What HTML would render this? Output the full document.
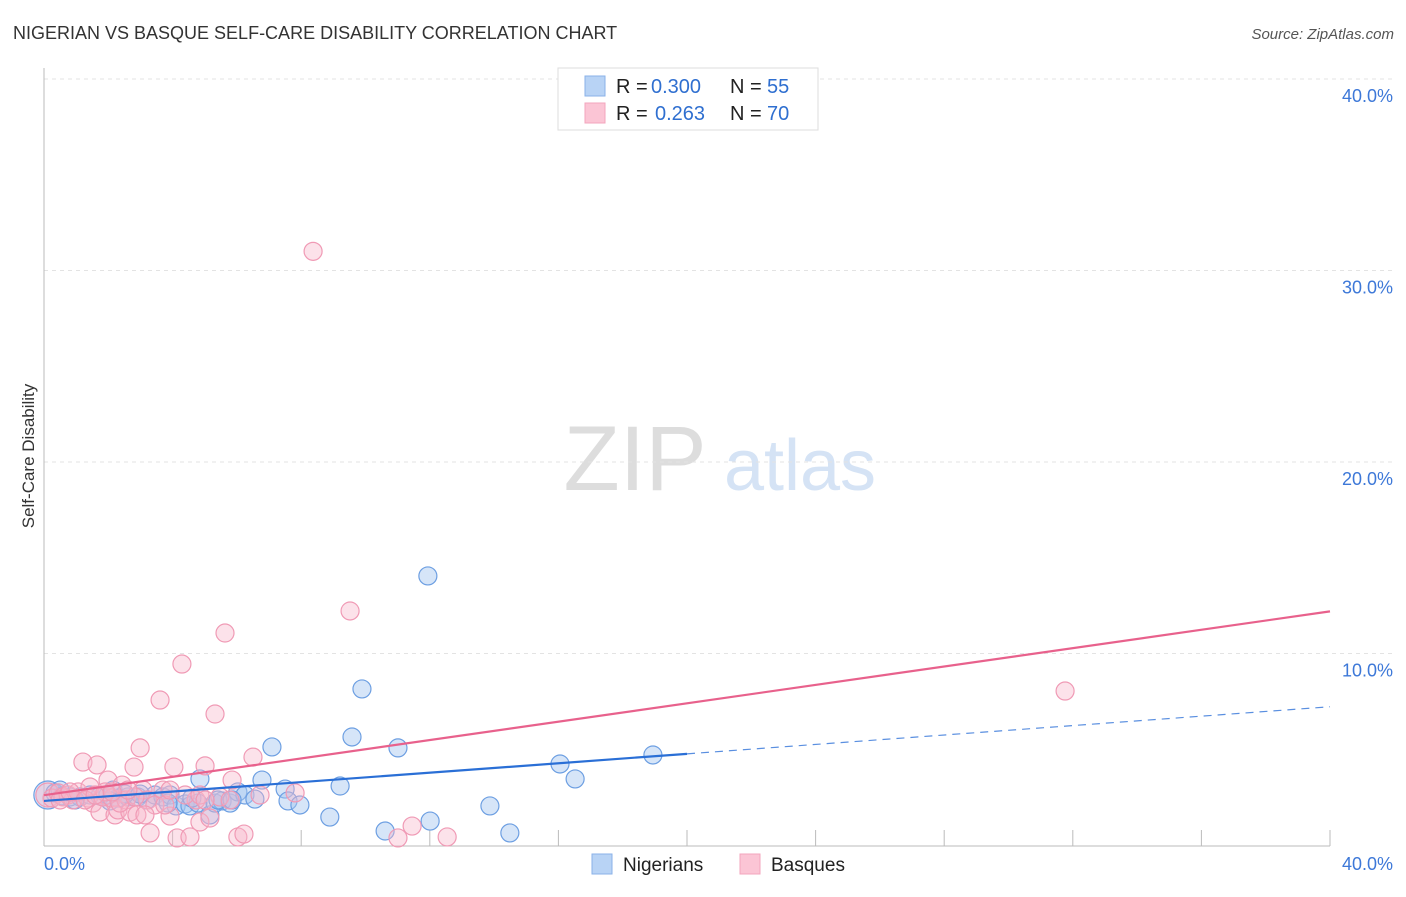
<!DOCTYPE html>
<html><head><meta charset="utf-8"><style>
body{margin:0;background:#fff;font-family:"Liberation Sans",sans-serif;}
svg text{font-family:"Liberation Sans",sans-serif;}
</style></head><body>
<svg id="chart" width="1406" height="892">
<text x="13" y="39" font-size="18" fill="#333">NIGERIAN VS BASQUE SELF-CARE DISABILITY CORRELATION CHART</text>
<text x="1394" y="39" font-size="15" fill="#555" font-style="italic" text-anchor="end">Source: ZipAtlas.com</text>
<text transform="translate(34,456) rotate(-90)" font-size="17" fill="#333" text-anchor="middle">Self-Care Disability</text>
<g><text x="635" y="490" font-size="92" fill="#ddd" font-family="Liberation Serif" text-anchor="middle">ZIP</text><text x="800" y="490" font-size="72" fill="#d5e3f5" text-anchor="middle">atlas</text></g>
<g id="grid"></g><g id="marks"></g>
<g>
<rect x="558" y="68" width="260" height="62" fill="#fff" stroke="#ddd"/>
<rect x="585" y="76" width="20" height="20" fill="#b8d3f5" stroke="#8ab2e8"/>
<rect x="585" y="103" width="20" height="20" fill="#fbc5d5" stroke="#f3a5bd"/>
<text x="616" y="93" font-size="20" fill="#222">R =</text>
<text x="651" y="93" font-size="20" fill="#2f6fd0">0.300</text>
<text x="730" y="93" font-size="20" fill="#222">N =</text>
<text x="767" y="93" font-size="20" fill="#2f6fd0">55</text>
<text x="616" y="120" font-size="20" fill="#222">R =</text>
<text x="655" y="120" font-size="20" fill="#2f6fd0">0.263</text>
<text x="730" y="120" font-size="20" fill="#222">N =</text>
<text x="767" y="120" font-size="20" fill="#2f6fd0">70</text>
</g>
<g>
<rect x="592" y="854" width="20" height="20" fill="#b8d3f5" stroke="#8ab2e8"/>
<text x="623" y="871" font-size="19" fill="#222">Nigerians</text>
<rect x="740" y="854" width="20" height="20" fill="#fbc5d5" stroke="#f3a5bd"/>
<text x="771" y="871" font-size="19" fill="#222">Basques</text>
</g>
<text x="44" y="870" font-size="18" fill="#3d78d8">0.0%</text>
<text x="1393" y="870" font-size="18" fill="#3d78d8" text-anchor="end">40.0%</text>
</svg>
<script>
const yTicks=[10,20,30,40];
const yTickLabels=["10.0%","20.0%","30.0%","40.0%"];
const nigX=[0.12,0.34,0.56,0.81,1.12,1.43,1.74,1.99,2.3,2.61,2.92,3.2,3.45,3.7,3.92,4.11,4.39,4.54,4.85,4.79,5.16,5.32,5.54,5.79,6.03,6.25,6.56,6.78,7.09,7.5,7.59,7.96,8.89,9.21,9.58,9.89,10.61,11.01,11.94,12.01,13.87,14.49,16.05,16.52,18.94,0.5,0.96,2.15,2.52,3.86,2.05,4.6,5.41,5.85,2.99];
const nigY=[2.61,2.72,2.56,2.51,2.51,2.61,2.56,2.61,2.45,2.51,2.51,2.35,2.61,2.51,2.61,2.04,2.14,2.04,3.45,2.19,1.57,2.19,2.3,2.19,2.77,2.61,2.4,3.39,5.12,2.92,2.3,2.09,1.46,3.08,5.64,8.15,0.73,5.07,14.05,1.25,2.04,0.63,4.23,3.45,4.7,2.87,2.35,2.87,2.66,2.19,2.3,2.45,2.35,2.35,2.66];
const basX=[0.12,0.25,0.44,0.59,0.75,0.9,1.06,1.21,1.37,1.52,1.65,1.74,1.83,1.99,2.12,2.21,2.3,2.43,2.55,2.67,2.8,2.89,2.99,3.08,3.23,3.3,3.45,3.61,3.7,3.92,4.04,4.14,4.29,4.54,4.73,4.85,5.01,5.16,5.32,5.47,5.63,5.85,6.03,6.22,6.5,7.81,8.37,9.52,11.01,11.45,12.54,31.76,1.43,1.9,2.36,2.83,3.76,4.39,2.61,3.14,0.5,0.81,1.28,1.59,2.12,4.85,5.79,3.92,5.01,6.72];
const basY=[2.61,2.45,2.72,2.51,2.61,2.35,2.77,4.33,2.45,2.19,4.18,1.72,2.51,3.39,2.45,1.57,1.83,3.13,2.35,1.72,4.07,1.57,5.07,2.87,2.35,0.63,2.09,7.57,2.87,1.51,4.07,0.37,9.45,0.42,2.35,1.2,4.13,1.41,6.84,2.51,11.07,3.39,0.42,0.57,4.59,2.72,31.0,12.22,0.37,0.99,0.42,8.04,3.03,2.77,2.19,2.51,2.09,2.61,2.87,1.57,2.35,2.77,2.35,2.61,2.77,2.61,2.35,2.87,2.35,2.61];
const nigLine={i:2.3,s:0.123,solidEnd:20};
const basLine={i:2.6,s:0.24};
const X=v=>44+v*32.15, Y=v=>845-v*19.15;
const NS="http://www.w3.org/2000/svg";
const grid=document.getElementById('grid'),marks=document.getElementById('marks');
function mk(tag,attrs,parent){const e=document.createElementNS(NS,tag);for(const k in attrs)e.setAttribute(k,attrs[k]);parent.appendChild(e);return e;}
yTicks.forEach((t,i)=>{
 const l=mk('line',{x1:44,x2:1394,y1:Y(t),y2:Y(t),stroke:'#e3e3e3','stroke-dasharray':'4,4'},grid);
 
 
 const tx=mk('text',{x:1393,y:Y(t)+23,'font-size':18,fill:'#3d78d8','text-anchor':'end'},grid);
 tx.textContent=yTickLabels[i];
 
 
});
const ax=mk('line',{x1:44,x2:44,y1:68,y2:846,stroke:'#bbb'},grid);


const bx=mk('line',{x1:44,x2:1330,y1:846,y2:846,stroke:'#bbb'},grid);


for(let k=1;k<=10;k++){const t=mk('line',{x1:X(k*4),x2:X(k*4),y1:830,y2:846,stroke:'#bbb'},grid);
 
 }
nigX.forEach((x,i)=>{const c=mk('circle',{cx:X(x),cy:Y(nigY[i]),r:i==0?14:9,fill:'rgba(165,198,240,0.45)',stroke:'#6d9fe2','stroke-width':1.2},marks);
 
 });
basX.forEach((x,i)=>{const c=mk('circle',{cx:X(x),cy:Y(basY[i]),r:i==0?12:9,fill:'rgba(248,182,202,0.4)',stroke:'#f09ab5','stroke-width':1.2},marks);
 
 });
const bl=mk('line',{x1:X(0),y1:Y(basLine.i),x2:X(40),y2:Y(basLine.i+40*basLine.s),stroke:'#e8618c','stroke-width':2.2},marks);


const nl=mk('line',{x1:X(0),y1:Y(nigLine.i),x2:X(nigLine.solidEnd),y2:Y(nigLine.i+nigLine.solidEnd*nigLine.s),stroke:'#2a6fd6','stroke-width':2.2},marks);


const nd=mk('line',{x1:X(nigLine.solidEnd),y1:Y(nigLine.i+nigLine.solidEnd*nigLine.s),x2:X(40),y2:Y(nigLine.i+40*nigLine.s),stroke:'#5a8fe0','stroke-width':1.2,'stroke-dasharray':'8,6'},marks);


</script>
</body></html>
